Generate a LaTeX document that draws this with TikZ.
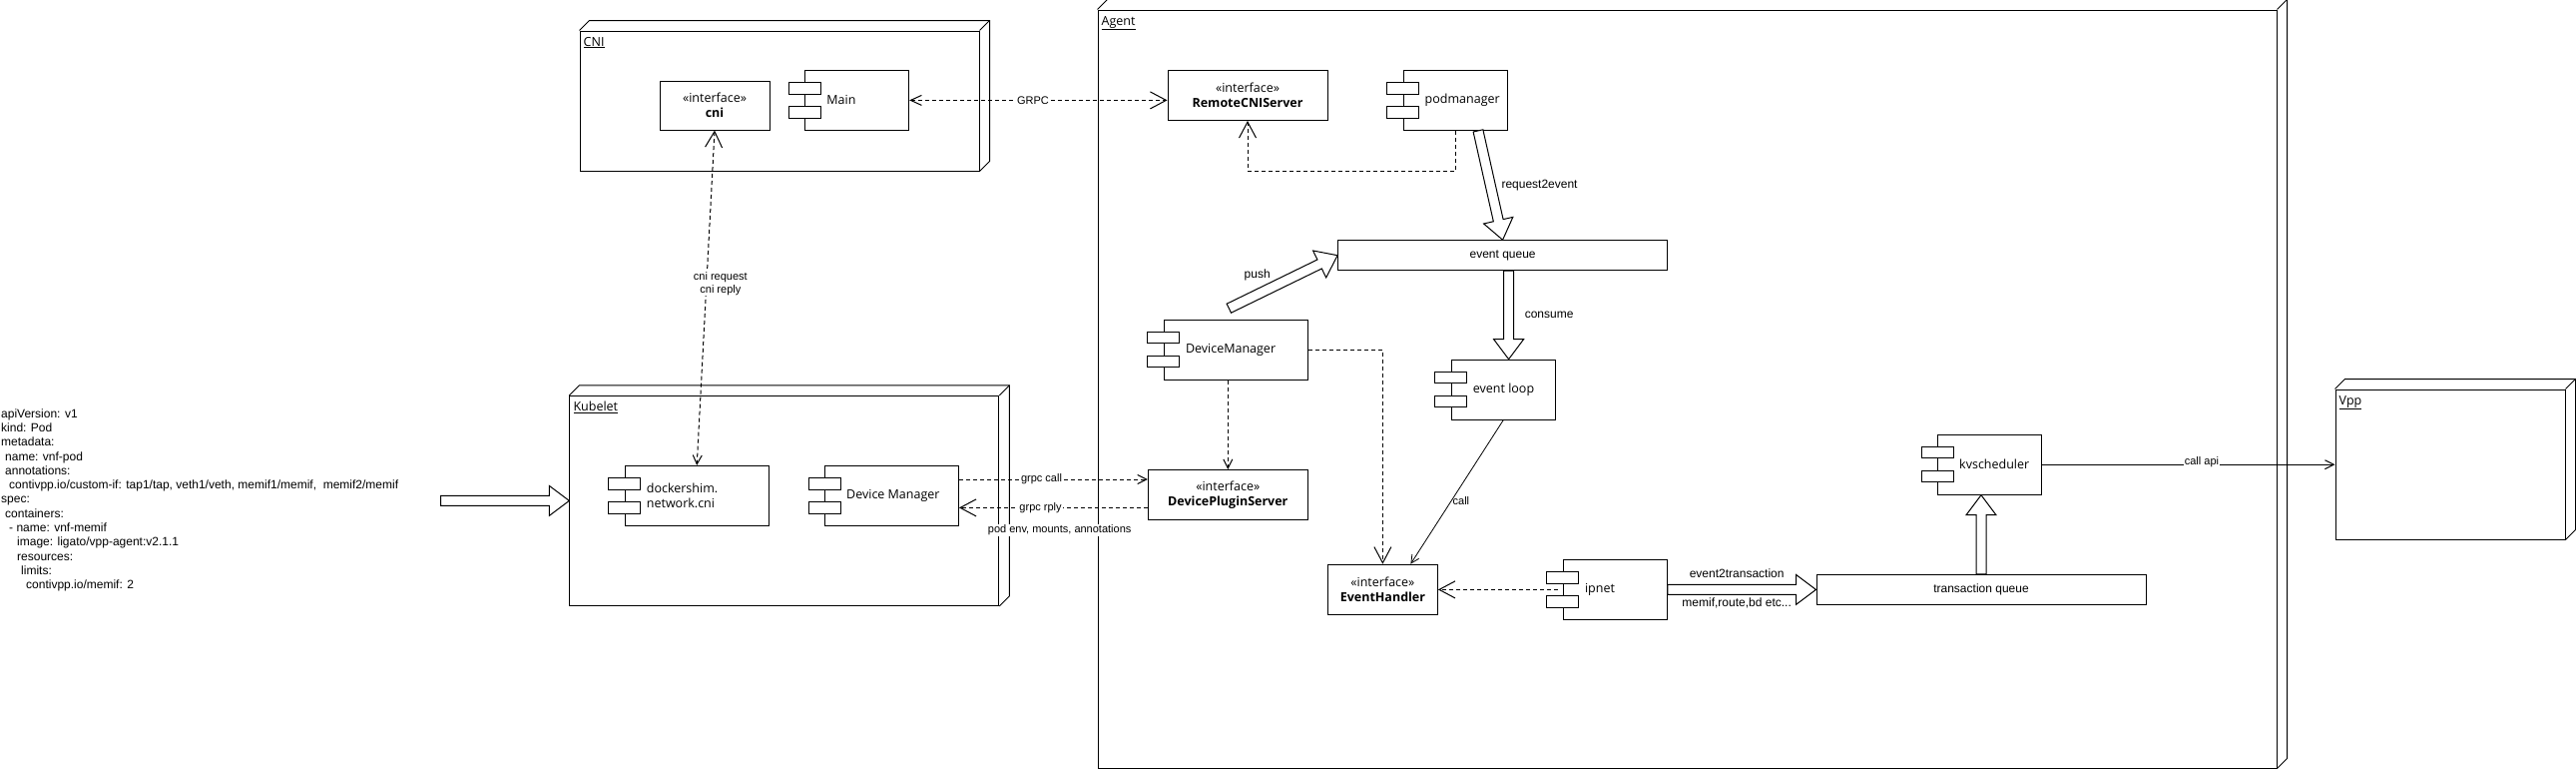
\documentclass[tikz,border=0pt]{standalone}
\usepackage{fontspec}
\setmainfont{Liberation Sans}
\newfontfamily\osans{Open Sans}
\usetikzlibrary{arrows.meta,calc}

\tikzset{
  nbox/.style={draw, line width=1pt, fill=white, inner sep=0pt},
  edgeone/.style={line width=1pt, line join=miter},
  tabbox/.style={draw, fill=white, line width=1pt},
  ctext/.style={font=\osans\fontsize{12.5}{15}\selectfont, inner sep=0pt, align=left},
  ifbox/.style={nbox, align=center, font=\osans\fontsize{12.5}{15}\selectfont},
  qbox/.style={nbox, minimum width=330pt, minimum height=30pt, font=\fontsize{12}{14}\selectfont},
  ftext/.style={font=\osans\fontsize{12.5}{15}\selectfont, inner sep=0pt, anchor=base west},
  lbl/.style={font=\fontsize{11}{13}\selectfont, inner sep=1pt},
  lblb/.style={font=\fontsize{12}{14}\selectfont, inner sep=1pt},
  dl/.style={line width=1pt, dash pattern=on 4pt off 3pt},
  blk/.style={draw, fill=white, line width=1pt, line join=miter},
  bigtip/.tip={Straight Barb[length=16pt,width=17pt]},
  smalltip/.tip={Straight Barb[length=9pt,width=9pt]},
}

\newcommand\mkframe[6]{%
  \node[nbox, minimum width=#4pt, minimum height=#5pt] (#1) at (#2,#3) {};
  \draw[edgeone] (#1.north west) -- ++(10,-10) -- ([shift={(10,-10)}]#1.north east)
     -- ([shift={(10,-10)}]#1.south east) -- (#1.south east);
  \draw[edgeone] (#1.north east) -- ++(10,-10);
  \node[ftext] (#1-t) at ([shift={(4,15.5)}]#1.north west) {\underline{#6}};
}
\newcommand\mkcomp[5]{%
  \node[nbox, minimum width=#4pt, minimum height=60pt] (#1) at (#2,#3) {};
  \draw[tabbox] ([shift={(-16,-17.75)}]#1.west) rectangle ([shift={(16,-6.25)}]#1.west);
  \draw[tabbox] ([shift={(-16,6.25)}]#1.west) rectangle ([shift={(16,17.75)}]#1.west);
  \node[ctext, anchor=west] (#1-t) at ([xshift=22pt]#1.west) {#5};
}
\newcommand\blockarrow[2]{%
  \coordinate (ba-h) at ($(#2)!20pt!(#1)$);
  \draw[blk] ($(#1)!5pt!90:(#2)$) -- ($(ba-h)!5pt!90:(#2)$) -- ($(ba-h)!15pt!90:(#2)$)
    -- (#2) -- ($(ba-h)!15pt!-90:(#2)$) -- ($(ba-h)!5pt!-90:(#2)$) -- ($(#1)!5pt!-90:(#2)$) -- cycle;
}

\begin{document}
\begin{tikzpicture}[x=1pt, y=-1pt]
\fill[white] (0,0) rectangle (2581,771);
\useasboundingbox (0,0) rectangle (2581,771);

% ---------- frames ----------
\mkframe{CNI}{781}{101}{400}{140}{CNI}
\mkframe{Kubelet}{785.8}{501.4}{430}{210}{Kubelet}
\mkframe{Agent}{1690.5}{389.5}{1181}{759}{Agent}
\mkframe{Vpp}{2455}{465}{230}{150}{Vpp}

% ---------- YAML ----------
\node[anchor=west, align=left, inner sep=0pt, font=\fontsize{12}{14.3}\selectfont] (yaml) at (1,500.8) {%
apiVersion: v1\\
kind: Pod\\
metadata:\\
\hspace*{4pt}name: vnf-pod\\
\hspace*{4pt}annotations:\\
\hspace*{8pt}contivpp.io/custom-if: tap1/tap, veth1/veth, memif1/memif,~~memif2/memif\\
spec:\\
\hspace*{4pt}containers:\\
\hspace*{8pt}- name: vnf-memif\\
\hspace*{16pt}image: ligato/vpp-agent:v2.1.1\\
\hspace*{16pt}resources:\\
\hspace*{20pt}limits:\\
\hspace*{25pt}contivpp.io/memif: 2};
\coordinate (yaml-tail) at (441.5,501.4);

% ---------- CNI content ----------
\node[ifbox, minimum width=110pt, minimum height=49pt] (cni) at (716,105.5) {«interface»\\\textbf{cni}};
\mkcomp{Main}{858.7}{100.4}{104}{Main}

% ---------- Kubelet content ----------
\mkcomp{dockershim}{698.2}{496.4}{144}{dockershim.\\network.cni}
\mkcomp{DMK}{893.5}{496.4}{134}{Device Manager}

% ---------- Agent content ----------
\node[ifbox, minimum width=160pt, minimum height=50pt] (RemoteCNIServer) at (1250,95.5) {«interface»\\\textbf{RemoteCNIServer}};
\mkcomp{podmanager}{1458}{100.4}{104}{podmanager}
\node[qbox] (eventqueue) at (1505.6,255.7) {event queue};
\mkcomp{DeviceManager}{1238.3}{350.2}{144}{DeviceManager}
\mkcomp{eventloop}{1506.2}{390.2}{104}{event loop}
\node[ifbox, minimum width=160pt, minimum height=50pt] (DevicePluginServer) at (1230.3,495.5) {«interface»\\\textbf{DevicePluginServer}};
\node[ifbox, minimum width=110pt, minimum height=50pt] (EventHandler) at (1385.4,590.2) {«interface»\\\textbf{EventHandler}};
\mkcomp{ipnet}{1618.3}{590.4}{104}{ipnet}
\node[qbox] (tq) at (1985,590.4) {transaction queue};
\mkcomp{kvscheduler}{1993.5}{465.2}{104}{kvscheduler}

% ---------- block arrows ----------
\blockarrow{yaml-tail}{Kubelet.west}

\coordinate (r2e-s) at ($(podmanager.south)+(23,0)$);
\blockarrow{r2e-s}{eventqueue.north}
\path (r2e-s) -- (eventqueue.north) node[pos=0.5, lblb, anchor=west, xshift=10pt] (r2e-l) {request2event};

\coordinate (push-s) at ($(DeviceManager.north)+(-7,-11)$);
\blockarrow{push-s}{eventqueue.west}
\path (push-s) -- (eventqueue.west) node[pos=0.5, lblb, xshift=-26pt, yshift=7pt] (push-l) {push};

\coordinate (con-s) at ($(eventqueue.south)+(6,0)$);
\coordinate (con-e) at (con-s |- eventloop.north);
\blockarrow{con-s}{con-e}
\path (con-s) -- (con-e) node[pos=0.5, lblb, anchor=west, xshift=15pt] (con-l) {consume};

\blockarrow{ipnet.east}{tq.west}
\path (ipnet.east) -- (tq.west)
  node[pos=0.5, lblb, xshift=-5pt, yshift=16pt] (e2t-l) {event2transaction}
  node[pos=0.5, lblb, xshift=-5pt, yshift=-14pt] (e2t-l2) {memif,route,bd etc...};

\coordinate (kv-e) at (tq.north |- kvscheduler.south);
\blockarrow{tq.north}{kv-e}

% ---------- dashed / plain connectors ----------
\draw[dl, {Straight Barb[length=11pt,width=10pt]}-{bigtip}] (Main.east) -- (Main.east -| RemoteCNIServer.west)
  node[lbl, fill=white, pos=0.479] (grpc-l) {GRPC};

\draw[dl, {bigtip}-{smalltip}] (cni.south) -- (dockershim.north)
  node[lbl, fill=white, align=center, pos=0.457, xshift=14pt] (cnireq-l) {cni request\\cni reply};

\draw[dl, -{bigtip}] (podmanager.south) -- ++(0,40.7) -| (RemoteCNIServer.south);

\draw[dl, -{smalltip}] (DevicePluginServer.north |- DeviceManager.south) -- (DevicePluginServer.north);

\draw[dl, -{bigtip}] (DeviceManager.east) -| (EventHandler.north);

\coordinate (ip-s) at ($(ipnet.west)+(-5,0)$);
\draw[dl, -{bigtip}] (ip-s) -- (EventHandler.east |- ip-s);

\coordinate (eh-call) at ($(EventHandler.north)+(28,0)$);
\draw[line width=0.8pt, -{Straight Barb[length=8pt,width=8pt]}] (eventloop.south) -- (eh-call)
  node[lbl, pos=0.56, anchor=west] (call-l) {call};

\coordinate (gc) at ($(DMK.east)+(0,-16.4)$);
\draw[dl, -{smalltip}] (gc) -- (gc -| DevicePluginServer.west)
  node[lbl, fill=white, pos=0.437] (gc-l) {grpc call};

\coordinate (gr) at ($(DMK.east)+(0,12)$);
\draw[dl, -{bigtip}] (gr -| DevicePluginServer.west) -- (gr)
  node[lbl, fill=white, pos=0.568] (gr-l) {grpc rply}
  node[lbl, fill=white, pos=0.467, yshift=-22.7pt] (podenv-l) {pod env, mounts, annotations};

\draw[line width=1pt, -{smalltip}] (kvscheduler.east) -- (kvscheduler.east -| Vpp.west)
  node[lbl, fill=white, pos=0.545, yshift=3pt, inner sep=0.5pt] (callapi-l) {call api};

\end{tikzpicture}
\end{document}
